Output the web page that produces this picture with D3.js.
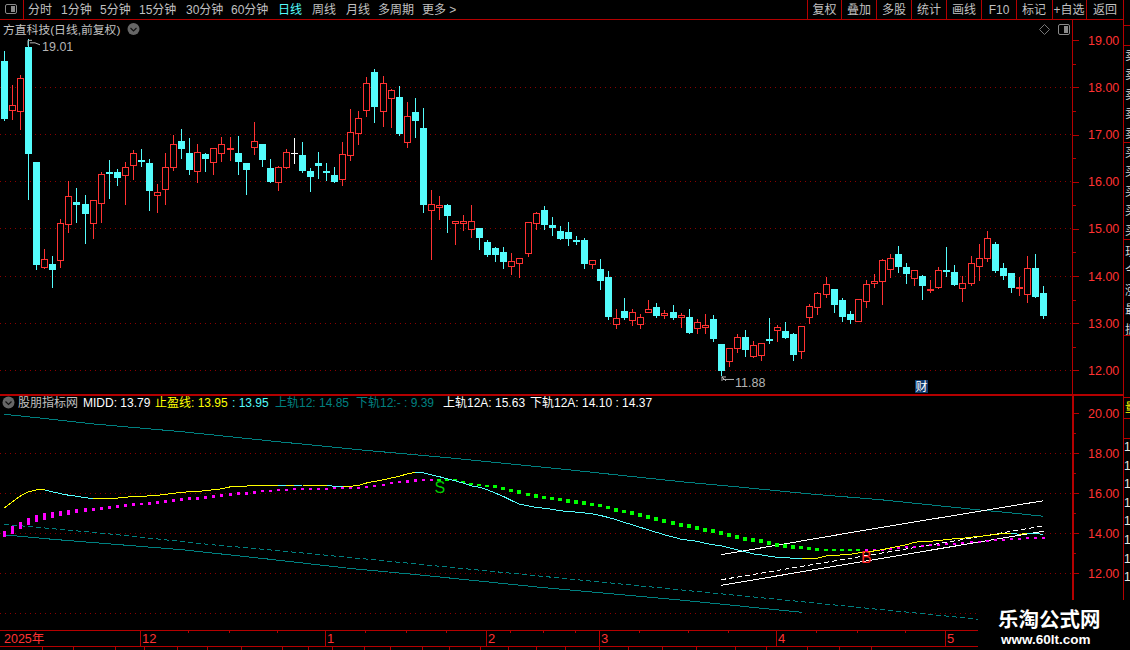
<!DOCTYPE html>
<html lang="zh">
<head>
  <title>方直科技</title>
  <meta charset="utf-8">
  <script src="https://d3js.org/d3.v7.min.js"></script>
<style>
html, body { margin: 0; padding: 0; background: #000; overflow: hidden; }
svg { display: block; }
text { font-family: "Liberation Sans", "Noto Sans CJK SC", sans-serif; }
</style>
</head>
<body>
<div id="app"></div>
<script>
// daily candles, one value per trading day
const opens = [18.54,17.51,17.49,18.84,16.40,14.17,14.25,14.34,15.09,15.55,
  15.51,15.13,15.54,16.20,16.19,16.15,16.34,16.46,16.38,15.71,
  15.85,16.31,16.86,16.60,16.21,16.57,16.42,16.60,16.68,16.60,
  16.38,16.74,16.78,16.29,15.99,16.30,16.60,16.55,16.21,16.38,
  16.21,16.14,16.06,16.57,17.04,17.51,18.31,17.49,17.78,17.78,
  16.83,17.46,17.12,15.38,15.46,15.50,15.11,15.10,14.97,15.01,
  14.71,14.58,14.50,14.20,14.27,14.48,15.12,15.39,15.07,14.94,
  14.92,14.76,14.75,14.24,14.13,13.96,12.97,13.24,13.06,12.99,
  13.24,13.33,13.17,13.22,13.12,13.13,12.89,12.91,13.07,12.54,
  12.20,12.45,12.69,12.28,12.31,12.65,12.84,12.82,12.77,12.40,
  13.11,13.33,13.61,13.71,13.48,13.18,13.04,13.45,13.84,13.89,
  14.13,14.45,14.18,13.93,13.99,13.69,13.75,14.11,14.07,13.74,
  13.84,14.20,14.37,14.67,14.16,14.05,13.73,13.61,14.16,13.62];
const closes = [17.30,17.62,18.19,16.57,14.22,14.35,14.13,15.12,15.69,15.49,
  15.29,15.61,16.16,16.18,16.06,16.31,16.60,16.42,15.79,15.78,
  16.31,16.79,16.70,16.23,16.62,16.46,16.71,16.79,16.71,16.40,
  16.23,16.86,16.44,15.99,16.31,16.62,16.60,16.21,16.08,16.32,
  16.16,15.99,16.58,17.05,17.35,18.09,17.56,18.09,17.94,16.99,
  17.39,17.27,15.49,15.51,15.50,15.26,15.15,15.15,15.15,14.79,
  14.43,14.43,14.28,14.30,14.38,15.13,15.33,15.07,15.01,14.77,
  14.77,14.75,14.24,14.32,13.88,13.11,13.09,13.09,13.23,13.13,
  13.30,13.13,13.21,13.09,13.16,12.79,13.02,12.96,12.65,11.96,
  12.47,12.69,12.41,12.52,12.56,12.63,12.90,12.68,12.33,12.92,
  13.35,13.62,13.82,13.37,13.13,13.05,13.50,13.82,13.89,14.33,
  14.37,14.18,14.03,14.11,13.77,13.72,14.11,14.09,13.79,13.85,
  14.26,14.38,14.79,14.09,13.99,13.73,13.75,14.17,13.54,13.13];
const highs = [18.77,18.05,18.26,19.01,16.40,14.57,14.42,15.19,16.01,15.85,
  15.70,15.61,16.20,16.46,16.25,16.41,16.67,16.69,16.48,15.95,
  16.59,16.99,17.10,16.91,16.78,16.59,16.71,16.94,16.94,16.97,
  16.38,17.25,16.80,16.48,16.33,16.69,16.92,16.84,16.29,16.61,
  16.38,16.31,16.84,17.54,17.50,18.22,18.37,18.24,17.96,18.03,
  17.69,17.76,17.56,15.82,15.69,15.52,15.15,15.28,15.50,15.01,
  14.75,14.60,14.60,14.48,14.38,15.13,15.35,15.48,15.24,15.05,
  15.13,14.84,14.79,14.32,14.35,14.09,13.28,13.52,13.28,13.19,
  13.48,13.41,13.26,13.37,13.20,13.30,13.07,13.18,13.16,12.54,
  12.47,12.77,12.84,12.62,12.56,13.09,12.94,13.01,12.79,12.92,
  13.39,13.65,13.96,13.71,13.52,13.24,13.50,13.90,14.03,14.35,
  14.45,14.62,14.26,14.11,14.01,13.90,14.18,14.60,14.22,13.99,
  14.41,14.67,14.94,14.71,14.26,14.05,13.96,14.41,14.45,13.77];
const lows = [17.30,17.31,17.10,15.63,14.13,14.15,13.75,14.19,14.93,15.13,
  14.70,14.79,15.13,15.65,15.91,15.51,16.04,16.32,15.40,15.34,
  15.51,16.23,16.50,16.15,15.99,16.21,16.16,16.43,16.46,16.16,
  15.72,16.57,16.32,15.99,15.81,16.27,16.38,16.19,15.80,16.06,
  16.02,15.99,15.91,16.46,16.80,17.39,17.25,17.18,17.16,16.99,
  16.72,16.93,15.35,14.35,15.20,14.92,14.67,14.96,14.82,14.56,
  14.41,14.30,14.16,14.03,13.96,14.41,14.99,14.99,14.86,14.77,
  14.65,14.67,14.16,14.16,13.71,13.07,12.88,13.07,12.96,12.88,
  13.22,13.11,13.09,13.07,12.90,12.77,12.79,12.77,12.62,11.88,
  12.09,12.37,12.30,12.27,12.20,12.56,12.62,12.67,12.20,12.24,
  12.99,13.18,13.54,13.22,13.03,12.99,13.04,13.33,13.75,13.39,
  13.96,14.07,13.84,13.79,13.50,13.65,13.73,13.99,13.79,13.45,
  13.79,13.90,14.30,14.07,13.92,13.65,13.58,13.43,13.54,13.09];

// 止盈线: thin line, yellow rising / cyan falling
const stopLine = [15.28,15.58,15.87,16.08,16.17,16.17,16.07,15.98,15.90,15.85,
  15.78,15.74,15.75,15.76,15.76,15.80,15.85,15.85,15.87,15.90,
  15.95,16.00,16.05,16.08,16.10,16.13,16.18,16.23,16.32,16.35,
  16.36,16.40,16.40,16.41,16.41,16.40,16.40,16.39,16.40,16.40,
  16.40,16.35,16.33,16.35,16.40,16.52,16.60,16.67,16.77,16.85,
  16.97,17.05,17.02,16.92,16.83,16.72,16.62,16.50,16.37,16.30,
  16.17,16.00,15.83,15.63,15.45,15.37,15.30,15.25,15.20,15.13,
  15.09,15.06,15.02,14.97,14.89,14.79,14.67,14.54,14.42,14.29,
  14.17,14.04,13.92,13.82,13.70,13.65,13.60,13.50,13.43,13.37,
  13.27,13.17,13.07,12.97,12.92,12.85,12.80,12.78,12.75,12.74,
  12.75,12.76,12.87,12.90,12.92,12.95,13.02,13.07,13.12,13.18,
  13.27,13.35,13.43,13.55,13.60,13.60,13.65,13.68,13.73,13.75,
  13.80,13.85,13.88,13.95,13.98,14.00,13.95,14.00,13.98,13.95];
// MIDD: the square dots
const midd = [13.97,14.17,14.40,14.60,14.75,14.85,14.93,14.98,15.05,15.10,
  15.17,15.20,15.25,15.28,15.32,15.37,15.43,15.47,15.50,15.53,
  15.58,15.63,15.68,15.73,15.75,15.78,15.83,15.90,15.95,15.98,
  16.00,16.03,16.10,16.13,16.15,16.17,16.20,16.22,16.22,16.23,
  16.23,16.25,16.25,16.27,16.27,16.32,16.35,16.42,16.50,16.55,
  16.60,16.65,16.67,16.67,16.67,16.67,16.65,16.57,16.48,16.43,
  16.37,16.33,16.23,16.12,16.05,15.95,15.87,15.80,15.75,15.70,
  15.62,15.57,15.52,15.44,15.37,15.27,15.17,15.09,15.02,14.92,
  14.82,14.72,14.62,14.52,14.42,14.35,14.25,14.18,14.10,14.00,
  13.90,13.82,13.72,13.67,13.60,13.50,13.42,13.37,13.32,13.28,
  13.22,13.20,13.17,13.15,13.15,13.15,13.15,13.17,13.17,13.17,
  13.23,13.25,13.30,13.33,13.37,13.40,13.43,13.47,13.47,13.53,
  13.55,13.58,13.62,13.65,13.67,13.72,13.73,13.77,13.78,13.77];
const sellIndex = 54, buyIndex = 107;

// channel lines, read at a few candles: [candle, price]
const upper12 = [[0,19.95],[5,19.74],[11,19.47],[22,19.08],[33,18.62],[44,18.18],[55,17.78],[69,17.22],[84,16.58],[91,16.32],[100,15.97],[109,15.67],[121,15.17],[125,15.02],[129,14.85]];
const lower12 = [[0,13.92],[6,13.70],[22,13.18],[33,12.70],[43,12.24],[51,11.94],[67,11.28],[84,10.66],[99,10.05]];
const lower12Dash = [[0,14.45],[13,13.97],[26,13.42],[33,13.17],[46,12.67],[84,11.17],[100,10.54],[121,9.70],[129,9.39]];
const upper12A = [[89,12.93],[107,14.17],[129,15.63]];
const lower12A = [[89,11.40],[107,12.62],[129,14.10]];
const lower12ADash = [[89,11.68],[107,12.88],[129,14.37]];

const priceTicks = [19,18,17,16,15,14,13,12];
const priceHalfTicks = [18.5,17.5,16.5,15.5,14.5,13.5,12.5];
const priceGrid = [18,17,16,15,14,13,12];
const indTicks = [20,18,16,14,12];
const indHalfTicks = [19,17,15,13];
const indGrid = [18,16,14,12,10];

const monthIndex = [17,40,60,74,96,117];
const monthLabels = ["12","1","2","3","4","5"];
const weekIndex = [23,28,34,45,50,55,63,67,71,79,85,90,101,106,112];

const periodLabels = ["分时","1分钟","5分钟","15分钟","30分钟","60分钟","日线","周线","月线","多周期","更多 >"];
const toolLabels = ["复权","叠加","多股","统计","画线","F10","标记","+自选","返回"];
const sideLabels = ["卖","卖","卖","卖","卖","买","买","买","买","买"];

const width = 1130, height = 650;
const red = "#ff3232", cyan = "#54fcfc", line = "#b40000", gray = "#c0c0c0", teal = "#008080";

const svg = d3.select("#app").append("svg").attr("width", width).attr("height", height);
svg.append("rect").attr("width", width).attr("height", height).attr("fill", "#000");

const x = d3.scaleLinear().domain([0, 129]).range([4.5, 1043.5]);
const col = i => Math.floor(x(i));
const yPrice = d3.scaleLinear().domain([12, 19]).range([370.3, 40.3]);
const yInd = d3.scaleLinear().domain([10, 20]).range([613.3, 413.3]);

function hline(g, y, x1, x2, color, w) {
  g.append("line").attr("x1", x1).attr("x2", x2).attr("y1", y).attr("y2", y)
    .attr("stroke", color).attr("stroke-width", w || 1).attr("shape-rendering", "crispEdges");
}
function vline(g, x0, y1, y2, color, w) {
  g.append("line").attr("x1", x0).attr("x2", x0).attr("y1", y1).attr("y2", y2)
    .attr("stroke", color).attr("stroke-width", w || 1).attr("shape-rendering", "crispEdges");
}
function label(g, str, x0, y0, color, size, anchor) {
  return g.append("text").attr("x", x0).attr("y", y0).attr("fill", color)
    .attr("font-size", size || 12).attr("text-anchor", anchor || "start").text(str);
}

// grid
const gridG = svg.append("g");
priceGrid.forEach(p => gridG.append("line").attr("x1", 0).attr("x2", 1072)
  .attr("y1", Math.floor(yPrice(p)) + .5).attr("y2", Math.floor(yPrice(p)) + .5)
  .attr("stroke", "#8c0000").attr("stroke-dasharray", "1 4").attr("shape-rendering", "crispEdges"));
indGrid.forEach(p => gridG.append("line").attr("x1", 0).attr("x2", 1072)
  .attr("y1", Math.floor(yInd(p)) + .5).attr("y2", Math.floor(yInd(p)) + .5)
  .attr("stroke", "#8c0000").attr("stroke-dasharray", "1 4").attr("shape-rendering", "crispEdges"));

// frame
const frame = svg.append("g");
hline(frame, 19.5, 0, 1124, line);
vline(frame, 23.5, 0, 19, line);
[807.5,841.5,876.5,911.5,946.5,981.5,1016.5,1052.5,1086.5,1123.5].forEach(v => vline(frame, v, 0, 19, line));
hline(frame, 394.5, 0, 1124, line, 2);
vline(frame, 1072.5, 19, 394, line);
vline(frame, 1073, 394, 600, line, 2);
vline(frame, 1123.5, 19, 600, line);
hline(frame, 630.5, 0, 978, line);
hline(frame, 646.5, 0, 978, line);
[25,45,142,239,335,397,418,438].forEach(v => hline(frame, v + .5, 1123, 1130, line));

// toolbar
const bar = svg.append("g");
const periodX = [28,61,100,139,186,231,278,312,346,378,422];
periodLabels.forEach((d, i) => label(bar, d, periodX[i], 14, d === "日线" ? cyan : gray));
const toolX = [824.5,859,894,929,964,999,1034,1069,1105];
toolLabels.forEach((d, i) => label(bar, d, toolX[i], 14, gray, 12, "middle"));
bar.append("rect").attr("x", 5.5).attr("y", 4.5).attr("width", 11).attr("height", 9).attr("rx", 1.5)
  .attr("fill", "#000").attr("stroke", "#8a8a8a");
bar.append("rect").attr("x", 11).attr("y", 6).attr("width", 4).attr("height", 6).attr("fill", "#8a8a8a");

// title row
label(svg, "方直科技(日线,前复权)", 3, 34, gray, 11.8);
function roundIcon(cx, cy) {
  svg.append("circle").attr("cx", cx).attr("cy", cy).attr("r", 6).attr("fill", "#666");
  svg.append("path").attr("d", `M${cx - 3},${cy - 1}L${cx},${cy + 2}L${cx + 3},${cy - 1}`)
    .attr("fill", "none").attr("stroke", "#111").attr("stroke-width", 1.2);
}
roundIcon(133.5, 29);
svg.append("path").attr("d", "M1044.5,24.5L1049.5,29.5L1044.5,34.5L1039.5,29.5Z").attr("fill", "none").attr("stroke", "#777");
svg.append("rect").attr("x", 1058.5).attr("y", 24.5).attr("width", 11).attr("height", 10).attr("rx", 1.5)
  .attr("fill", "#000").attr("stroke", "#8a8a8a");
svg.append("rect").attr("x", 1064).attr("y", 26).attr("width", 4).attr("height", 7).attr("fill", "#8a8a8a");

// candles
const candles = d3.range(opens.length).map(i => ({i, o: opens[i], c: closes[i], h: highs[i], l: lows[i]}));
const tone = d => d.c > d.o ? red : d.c < d.o ? cyan : "#fff";
const candleG = svg.append("g").attr("shape-rendering", "crispEdges");
candleG.selectAll("line").data(candles).join("line")
  .attr("x1", d => col(d.i) + .5).attr("x2", d => col(d.i) + .5)
  .attr("y1", d => Math.floor(yPrice(d.h))).attr("y2", d => Math.ceil(yPrice(d.l)))
  .attr("stroke", tone);
candleG.selectAll("rect.up").data(candles.filter(d => d.c > d.o)).join("rect")
  .attr("class", "up")
  .attr("x", d => col(d.i) - 2.5).attr("width", 6)
  .attr("y", d => Math.floor(yPrice(d.c)) + .5)
  .attr("height", d => Math.max(1, Math.round(yPrice(d.o) - yPrice(d.c))))
  .attr("fill", "#000").attr("stroke", red);
candleG.selectAll("rect.down").data(candles.filter(d => d.c < d.o)).join("rect")
  .attr("class", "down")
  .attr("x", d => col(d.i) - 3).attr("width", 7)
  .attr("y", d => Math.floor(yPrice(d.o)))
  .attr("height", d => Math.max(2, Math.round(yPrice(d.c) - yPrice(d.o))))
  .attr("fill", cyan);
candleG.selectAll("line.doji").data(candles.filter(d => d.c === d.o)).join("line")
  .attr("class", "doji")
  .attr("x1", d => col(d.i) - 3).attr("x2", d => col(d.i) + 4)
  .attr("y1", d => Math.floor(yPrice(d.c)) + .5).attr("y2", d => Math.floor(yPrice(d.c)) + .5)
  .attr("stroke", "#fff");

// high and low flags
const arrows = svg.append("g").attr("fill", "none").attr("stroke", "#b4b4b4");
const hiX = col(3), hiY = yPrice(d3.max(highs));
arrows.append("path").attr("d", `M${hiX},${hiY + 6}V${hiY + .5}H${hiX + 4}M${hiX + 2},${hiY + 3}L${hiX + 7},${hiY + 3}L${hiX + 12},${hiY + 5}`);
label(svg, d3.max(highs).toFixed(2), hiX + 14, hiY + 11, "#b4b4b4", 12.5);
const loX = col(89) + 1, loY = yPrice(d3.min(lows));
arrows.append("path").attr("d", `M${loX},${loY + .5}V${loY + 5}M${loX},${loY + 1}H${loX + 4}M${loX},${loY + 1}L${loX + 4},${loY + 5}M${loX + 1},${loY + 3.5}H${loX + 12}`);
label(svg, d3.min(lows).toFixed(2), loX + 13, loY + 11, "#b4b4b4", 12.5);

// report flag
svg.append("rect").attr("x", 915).attr("y", 380).attr("width", 13).attr("height", 13).attr("fill", "#0f3a6e");
label(svg, "财", 921.5, 391, "#fff", 12, "middle");

// price axes
function priceAxis(scale, majors, halves) {
  const g = svg.append("g").attr("transform", "translate(1073,0)");
  g.call(d3.axisRight(scale).tickValues(majors).tickSize(6).tickPadding(9).tickFormat(d3.format(".2f")));
  g.append("g").call(d3.axisRight(scale).tickValues(halves).tickSize(3).tickFormat(""));
  g.selectAll(".domain").remove();
  g.selectAll("line").attr("stroke", line).attr("shape-rendering", "crispEdges");
  g.selectAll("text").attr("fill", red).attr("font-size", 12.5)
    .attr("font-family", '"Liberation Sans", sans-serif');
}
priceAxis(yPrice, priceTicks, priceHalfTicks);
priceAxis(yInd, indTicks, indHalfTicks);

// indicator legend
const leg = svg.append("g");
roundIcon(8.5, 402.5);
const legendText = ["股朋指标网","MIDD: 13.79","止盈线: 13.95",": 13.95","上轨12: 14.85","下轨12:- : 9.39","上轨12A: 15.63","下轨12A: 14.10 : 14.37"];
const legendX = [18,83,155,232,275,356,443,530];
const legendColor = [gray,"#fff","#ff0",cyan,teal,teal,"#fff","#fff"];
legendText.forEach((d, i) => label(leg, d, legendX[i], 407, legendColor[i], 12));

// indicator lines
const lineGen = d3.line().x(d => x(d[0])).y(d => yInd(d[1]));
const ind = svg.append("g").attr("fill", "none").attr("shape-rendering", "crispEdges");
ind.append("path").attr("d", lineGen(upper12)).attr("stroke", teal);
ind.append("path").attr("d", lineGen(lower12)).attr("stroke", teal);
ind.append("path").attr("d", lineGen(lower12Dash)).attr("stroke", teal).attr("stroke-dasharray", "5 3");
ind.append("path").attr("d", lineGen(upper12A)).attr("stroke", "#fff");
ind.append("path").attr("d", lineGen(lower12A)).attr("stroke", "#fff");
ind.append("path").attr("d", lineGen(lower12ADash)).attr("stroke", "#fff").attr("stroke-dasharray", "5 3");

// dots: green between the S and B signals, magenta otherwise.
// dot height grows with the gap to the stop line, as it does on the terminal
const inSell = i => i >= sellIndex && i < buyIndex;
const dotHeight = (d, i) => Math.max(2, Math.abs(yInd(stopLine[i]) - yInd(d)) * .22 + 1);
ind.selectAll("rect").data(midd).join("rect")
  .attr("x", (d, i) => inSell(i) ? col(i) - 2 : col(i) - 1)
  .attr("width", (d, i) => inSell(i) ? 4 : 3)
  .attr("height", dotHeight)
  .attr("y", (d, i) => yInd(d) - dotHeight(d, i) / 2)
  .attr("fill", (d, i) => inSell(i) ? "#00ff00" : "#ff00ff");

// stop line, one short piece per day
d3.pairs(stopLine.map((d, i) => [i, d])).forEach(([a, b]) => {
  ind.append("path").attr("d", lineGen([a, b])).attr("stroke", b[1] >= a[1] ? "#ff0" : cyan);
});

label(svg, "S", x(sellIndex) + .5, 493, "#00d000", 16, "middle");
label(svg, "B", x(buyIndex), 563, "#ff2020", 16, "middle");

// date strip
const axisG = svg.append("g");
monthIndex.forEach(i => vline(axisG, col(i) - .5, 631, 646, line));
weekIndex.forEach(i => vline(axisG, col(i) - .5, 631, 633, line));
label(axisG, "2025年", 4, 643, red, 12.5);
monthLabels.forEach((d, k) => label(axisG, d, col(monthIndex[k]) + 1, 643, red, 13));
[42.5,73.5,115.5,144.5,177.5,207.5,241.5,282.5,308.5,332.5,364.5,390.5,422.5,449.5,480.5,508.5,536.5,565.5,599.5,628.5,662.5,696.5,735.5,766.5,807.5,839.5,871.5]
  .forEach(v => vline(axisG, v, 647, 650, line));

// right hand quote panel, only its left edge is in the window
const side = svg.append("g");
sideLabels.forEach((d, i) => label(side, d, 1125, 60 + i * 19.4, "#d8d8d8", 12));
["现","今","涨","最","振"].forEach((d, i) => label(side, d, 1125, 256 + i * 19.4, "#d8d8d8", 12));
label(side, "量", 1125, 412, "#ff0", 12);
d3.range(8).forEach(i => label(side, "1", 1124, 451 + i * 18.6, "#e8e8e8", 12));

// watermark sits on top of everything
const wm = svg.append("g");
wm.append("rect").attr("x", 978).attr("y", 600).attr("width", 152).attr("height", 50).attr("fill", "#000");
label(wm, "乐淘公式网", 998, 627, "#fff", 20.5).attr("font-weight", 700);
label(wm, "www.60lt.com", 1001, 644, "#fff", 13.5).attr("font-weight", 700)
  .attr("font-family", '"Liberation Serif", serif');
</script>
</body>
</html>
